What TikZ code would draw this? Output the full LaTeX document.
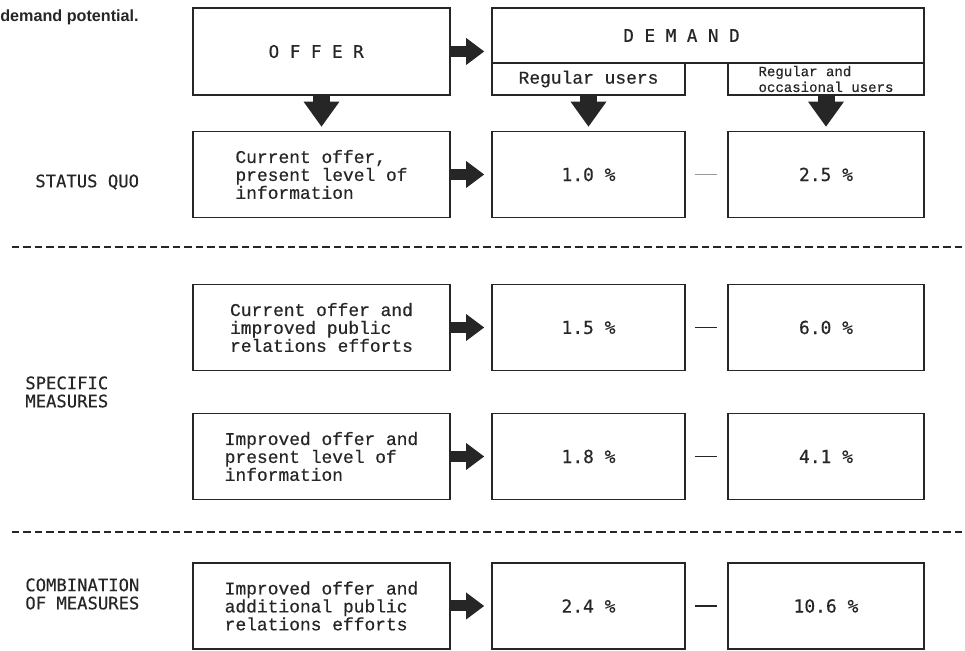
\documentclass[tikz,border=0pt]{standalone}
\usepackage{fontspec}
\usepackage{tikz}
\usetikzlibrary{positioning, arrows.meta}
\setmainfont{Liberation Serif}
\newfontfamily\typefont[FakeBold=0.5]{Liberation Mono}
\newfontfamily\gothfont[FakeBold=0.4]{DejaVu Sans Mono}
\newfontfamily\headfont{Liberation Sans}
\definecolor{inkgray}{RGB}{38,38,38}

\begin{document}
\begin{tikzpicture}[x=0.02cm, y=-0.02cm,
    cell/.style={draw=inkgray, line width=1pt, fill=white, inner sep=1pt,
                 minimum height=1.72cm, text=inkgray,
                 font=\typefont\fontsize{10.2}{10.2}\selectfont},
    wide/.style={cell, minimum width=5.14cm, align=left},
    valA/.style={cell, minimum width=3.86cm, font=\gothfont\fontsize{10.2}{12}\selectfont},
    valB/.style={valA, minimum width=3.92cm},
    head/.style={cell, minimum height=0.64cm},
    rowlab/.style={anchor=west, align=left, inner sep=0pt, text=inkgray,
                   font=\gothfont\fontsize{9.8}{10.3}\selectfont},
    blockr/.style={-{Triangle[length=0.36cm, width=0.54cm, line width=0pt]},
                   line width=0.22cm, inkgray, shorten >=0.14cm},
    blockd/.style={-{Triangle[length=0.5cm, width=0.72cm, line width=0pt]},
                   line width=0.34cm, inkgray, shorten >=0.08cm},
    bar/.style={line width=1.1pt, shorten <=0.18cm, shorten >=0.2cm},
    sep/.style={line width=0.8pt, inkgray, dash pattern=on 0.15cm off 0.08cm},
  ]
    \useasboundingbox (0,0) rectangle (965,651);
    \node[anchor=base west, inner sep=0pt, text=inkgray,
          font=\headfont\bfseries\fontsize{9.2}{11}\selectfont] (cap) at (0,22) {demand potential.};

    % header: offer and demand
    \node[wide, minimum height=1.74cm, font=\gothfont\fontsize{10}{12}\selectfont] (O) at (321.5,51.5) {O F F E R\phantom{X}};
    \node[cell, minimum width=8.64cm, minimum height=1.1cm,
          font=\gothfont\fontsize{10}{12}\selectfont] (D) at (708,35.5) {D E M A N D\phantom{XXXXX}};
    \node[head, minimum width=3.86cm] (U1) at (588.5,79) {Regular users};
    \node[head, minimum width=3.92cm, align=left, inner sep=0pt,
          font=\typefont\fontsize{8}{9}\selectfont] (U2) at (826,79) {Regular and\\occasional users};

    % rows
    \node[wide] (L1) at (321.5,174.5) {Current offer,\\present level of\\information};
    \node[valA] (A1) at (588.5,174.5) {1.0 \%};
    \node[valB] (B1) at (826,174.5)   {2.5 \%};

    \node[wide] (L2) at (321.5,327.5) {Current offer and\\improved public\\relations efforts};
    \node[valA] (A2) at (588.5,327.5) {1.5 \%};
    \node[valB] (B2) at (826,327.5)   {6.0 \%};

    \node[wide] (L3) at (321.5,456.5) {Improved offer and\\present level of\\information};
    \node[valA] (A3) at (588.5,456.5) {1.8 \%};
    \node[valB] (B3) at (826,456.5)   {4.1 \%};

    \node[wide] (L4) at (321.5,606) {Improved offer and\\additional public\\relations efforts};
    \node[valA] (A4) at (588.5,606) {2.4 \%};
    \node[valB] (B4) at (826,606)   {10.6 \%};

    % row labels
    \node[rowlab] (sq) at (35,182) {STATUS QUO};
    \node[rowlab] (sm) at (25,392) {SPECIFIC\\MEASURES};
    \node[rowlab] (cm) at (25,594) {COMBINATION\\OF MEASURES};

    % arrows and dashes
    \draw[blockr] (O.east) -- (O.east -| D.west);
    \foreach \a/\b in {O/L1, U1/A1, U2/B1} \draw[blockd] (\a) -- (\b);
    \foreach \r/\c in {1/black!40, 2/inkgray, 3/inkgray, 4/inkgray} {
      \draw[blockr] (L\r) -- (A\r);
      \draw[bar, \c] (A\r) -- (B\r);
    }

    \draw[sep] (12,247) -- (965,247);
    \draw[sep] (12,532) -- (965,532);
\end{tikzpicture}
\end{document}
